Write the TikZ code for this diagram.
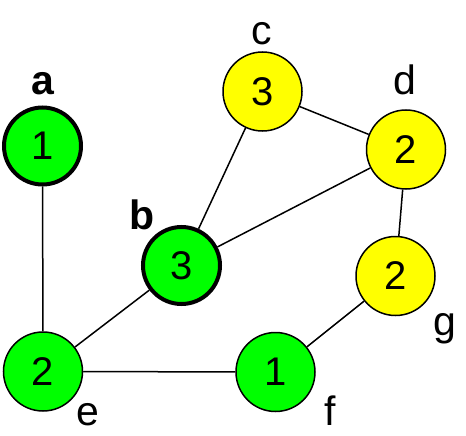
\documentclass[tikz,border=0pt]{standalone}
\usepackage{fontspec}
\setmainfont{Liberation Sans}
\usetikzlibrary{backgrounds}
\definecolor{ngreen}{RGB}{0,255,0}
\definecolor{nyellow}{RGB}{255,255,0}
\tikzset{
  vert/.style={circle, draw=black, line width=1.5pt, minimum size=79pt, inner sep=0pt, font=\fontsize{40}{40}\selectfont},
  gvert/.style={vert, fill=ngreen},
  yvert/.style={vert, fill=nyellow},
  bold vert/.style={line width=4pt, minimum size=77pt},
  lbl/.style={anchor=base, inner sep=0pt, font=\fontsize{41}{41}\selectfont},
  blbl/.style={lbl, font=\fontsize{41}{41}\selectfont\bfseries},
  edge/.style={line width=1.5pt, draw=black}
}
\begin{document}
\begin{tikzpicture}[x=1pt,y=-1pt]
\useasboundingbox (0,0) rectangle (466,436);
\node[gvert, bold vert] (a) at (42.5,146) {1};
\node[gvert, bold vert] (b) at (181.5,265.5) {3};
\node[yvert] (c) at (262.5,91.5) {3};
\node[yvert] (d) at (406,149.5) {2};
\node[yvert] (g) at (395.5,276) {2};
\node[gvert] (e) at (43,371.5) {2};
\node[gvert] (f) at (275.5,372) {1};
\node[blbl] (la) at (43,95) {a};
\node[blbl] (lb) at (142,229) {b};
\node[lbl] (lc) at (262,45) {c};
\node[lbl] (ld) at (405,95) {d};
\node[lbl] (le) at (88,425) {e};
\node[lbl] (lf) at (330,425) {f};
\node[lbl] (lg) at (445,335) {g};
\begin{scope}[on background layer]
\draw[edge] (a) -- (e);
\draw[edge] (e) -- (b);
\draw[edge] (b) -- (c);
\draw[edge] (b) -- (d);
\draw[edge] (c) -- (d);
\draw[edge] (d) -- (g);
\draw[edge] (g) -- (f);
\draw[edge] (e) -- (f);
\end{scope}
\end{tikzpicture}
\end{document}
